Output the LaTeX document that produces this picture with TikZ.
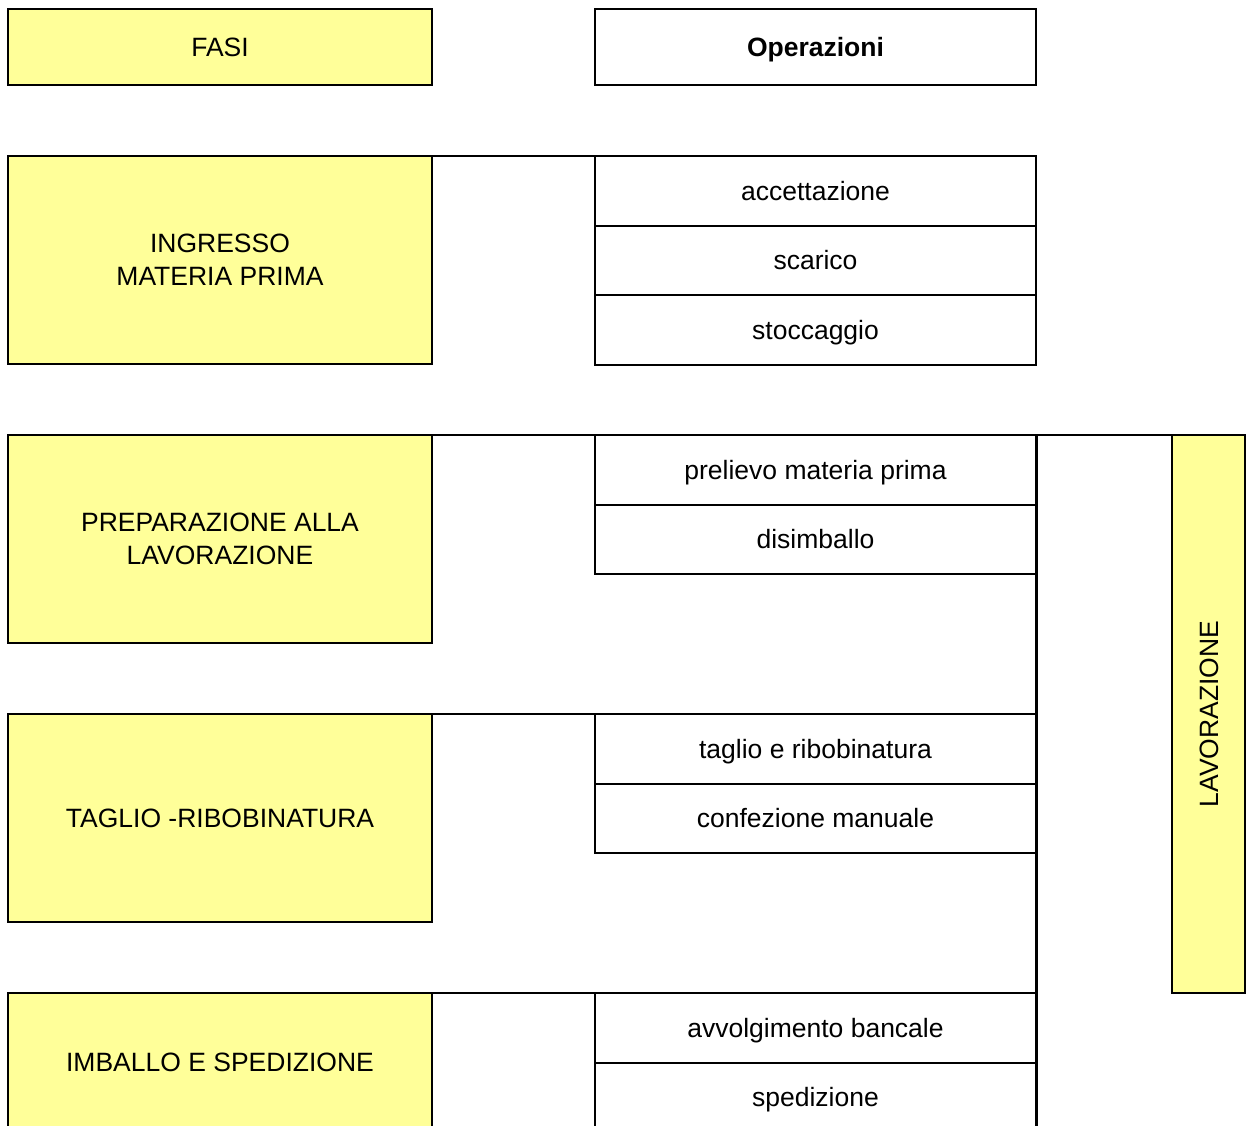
\documentclass[tikz,border=0pt]{standalone}
\usepackage{fontspec}
\setmainfont{Liberation Sans}
\definecolor{phasey}{HTML}{FFFF99}
\begin{document}
\begin{tikzpicture}[x=1pt,y=-1pt,
  every node/.style={inner sep=0pt,outer sep=0pt,anchor=north west,align=center,
    font=\fontsize{26.5}{33}\selectfont},
  oneline/.style={text height=22.8pt,text depth=3.7pt},
  phase/.style={draw,line width=2pt,fill=phasey,minimum width=424pt,minimum height=208pt},
  op/.style={draw,line width=2pt,fill=white,minimum width=441pt,minimum height=69.5pt,oneline},
  link/.style={line width=2pt}]
\useasboundingbox (0,0) rectangle (1247,1126);
\clip (0,0) rectangle (1247,1126);
% header
\node[draw,line width=2pt,fill=phasey,minimum width=424pt,minimum height=76pt,oneline] (fasi) at (8,9) {FASI};
\node[draw,line width=2pt,fill=white,minimum width=441pt,minimum height=76pt,oneline,font=\fontsize{26.5}{33}\selectfont\bfseries] (oper) at (595,9) {Operazioni};
% ingresso
\node[phase] (ing) at (8,156) {INGRESSO\\MATERIA PRIMA};
\node[op] (acc) at (595,156) {accettazione};
\node[op] (sca) at (595,225.5) {scarico};
\node[op] (sto) at (595,295) {stoccaggio};
\draw[link] (ing.north east) -- (acc.north west);
% preparazione
\node[phase] (prep) at (8,435) {PREPARAZIONE ALLA\\LAVORAZIONE};
\node[op] (prel) at (595,435) {prelievo materia prima};
\node[op] (dis) at (595,504.5) {disimballo};
% lavorazione
\node[draw,line width=2pt,fill=phasey,minimum width=73pt,minimum height=558pt] (lav) at (1172,435) {};
\node[rotate=90,anchor=center,oneline] (lavt) at (lav.center) {LAVORAZIONE};
\draw[link] (prep.north east) -- (lav.north west);
% taglio
\node[phase,oneline] (tag) at (8,714) {TAGLIO -RIBOBINATURA};
\node[op] (tagl) at (595,714) {taglio e ribobinatura};
\node[op] (conf) at (595,783.5) {confezione manuale};
\draw[link] (tag.north east) -- (tagl.north west);
% imballo
\node[draw,line width=2pt,fill=phasey,minimum width=424pt,minimum height=138pt,oneline] (imb) at (8,993) {IMBALLO E SPEDIZIONE};
\node[op] (avv) at (595,993) {avvolgimento bancale};
\node[op] (spe) at (595,1062.5) {spedizione};
\draw[link] (imb.north east) -- (avv.north west);
% vertical line
\coordinate (vbot) at (1036,1130);
\draw[line width=3pt] (prel.north east) -- (vbot);
\end{tikzpicture}
\end{document}
